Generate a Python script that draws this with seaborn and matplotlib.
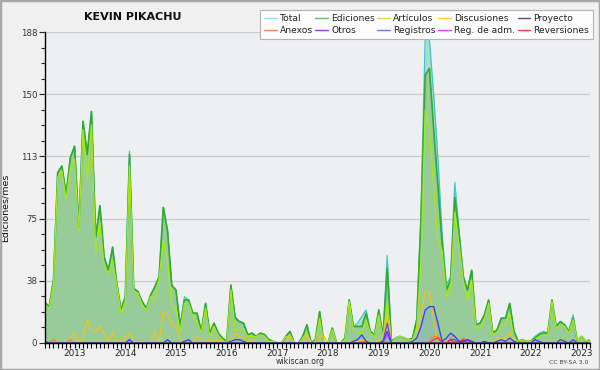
import numpy as np
import pandas as pd
import matplotlib
matplotlib.use("Agg")
import matplotlib.pyplot as plt
import seaborn as sns
from matplotlib.lines import Line2D
from matplotlib.patches import Rectangle
from matplotlib.ticker import FixedLocator, MultipleLocator

# ---------------- data (monthly, starting June 2012) ----------------
start_year, start_month = 2012, 6
year_labels = ["2013", "2014", "2015", "2016", "2017", "2018",
               "2019", "2020", "2021", "2022", "2023"]
y_tick_labels = ["0", "38", "75", "113", "150", "188"]
y_max = 188

ediciones = [24, 22, 38, 103, 107, 90, 112, 119, 70, 134, 114, 140, 64, 83, 52, 44, 58, 36, 20, 28,
             114, 33, 31, 25, 21, 29, 34, 40, 82, 68, 35, 32, 10, 26, 26, 18, 18, 7, 24, 6,
             12, 6, 3, 1, 35, 15, 13, 12, 5, 6, 4, 6, 5, 2, 1, 0, 0, 4, 7, 0,
             0, 4, 11, 0, 2, 19, 0, 0, 9, 0, 0, 3, 26, 10, 10, 10, 18, 7, 5, 20,
             4, 45, 1, 3, 4, 3, 2, 3, 14, 74, 162, 166, 129, 95, 60, 32, 38, 88, 66, 40,
             32, 44, 11, 12, 17, 26, 6, 8, 15, 15, 24, 7, 1, 2, 1, 1, 3, 5, 6, 6,
             26, 10, 13, 11, 7, 15, 1, 4, 1, 2]

total = [25, 22, 38, 103, 107, 90, 112, 119, 70, 134, 114, 140, 64, 83, 52, 44, 58, 36, 20, 28,
         116, 33, 31, 25, 21, 29, 34, 40, 82, 68, 35, 32, 10, 28, 26, 18, 18, 7, 24, 6,
         12, 6, 3, 1, 35, 16, 13, 12, 5, 6, 4, 6, 5, 2, 1, 0, 0, 4, 7, 0,
         0, 4, 11, 0, 2, 19, 0, 0, 9, 0, 0, 3, 26, 10, 12, 16, 20, 7, 5, 20,
         4, 53, 1, 3, 4, 3, 2, 3, 15, 80, 186, 183, 150, 112, 66, 35, 40, 97, 68, 41,
         32, 44, 11, 12, 17, 26, 6, 8, 15, 15, 24, 7, 1, 2, 1, 1, 4, 6, 7, 6,
         26, 10, 13, 11, 7, 17, 1, 4, 1, 2]

articulos = [23, 21, 36, 100, 104, 87, 106, 111, 68, 129, 99, 132, 55, 73, 46, 42, 50, 35, 18, 25,
             107, 31, 30, 23, 20, 28, 26, 39, 62, 50, 22, 21, 7, 24, 24, 16, 13, 6, 21, 4,
             10, 4, 2, 0, 32, 8, 8, 8, 4, 4, 4, 5, 4, 1, 1, 0, 0, 4, 3, 0,
             0, 3, 6, 0, 1, 15, 0, 0, 8, 0, 0, 2, 25, 8, 7, 5, 14, 6, 4, 17,
             3, 25, 0, 3, 4, 3, 2, 2, 9, 50, 141, 129, 94, 62, 56, 28, 32, 79, 60, 38,
             26, 38, 9, 9, 14, 24, 5, 6, 11, 11, 18, 3, 1, 2, 1, 1, 2, 4, 5, 5,
             25, 9, 11, 10, 6, 14, 1, 4, 1, 2]

discusiones = [0, 0, 0, 0, 0, 0, 3, 6, 0, 3, 14, 8, 7, 10, 5, 1, 7, 0, 1, 3,
               6, 1, 0, 1, 0, 0, 7, 0, 19, 17, 12, 10, 2, 0, 0, 1, 4, 0, 2, 2,
               1, 2, 0, 0, 1, 6, 4, 3, 1, 2, 0, 0, 0, 0, 0, 0, 0, 0, 5, 0,
               0, 0, 5, 0, 0, 4, 4, 0, 0, 0, 0, 0, 0, 1, 1, 2, 1, 0, 0, 2,
               0, 17, 0, 0, 0, 0, 0, 0, 3, 18, 31, 31, 14, 0, 1, 1, 2, 1, 0, 0,
               0, 0, 0, 0, 0, 0, 0, 3, 3, 2, 6, 1, 0, 0, 0, 0, 0, 0, 0, 0,
               0, 0, 0, 0, 0, 0, 0, 0, 0, 0]

registros = [1, 0, 0, 0, 0, 0, 0, 0, 0, 0, 0, 0, 0, 0, 0, 0, 0, 0, 0, 0,
             2, 0, 0, 0, 0, 0, 0, 0, 0, 2, 0, 0, 0, 1, 2, 0, 0, 0, 0, 0,
             0, 0, 0, 0, 1, 2, 2, 1, 0, 0, 0, 0, 0, 0, 0, 0, 0, 0, 0, 0,
             0, 0, 0, 0, 0, 0, 0, 0, 0, 0, 0, 0, 0, 1, 2, 5, 1, 0, 0, 0,
             1, 7, 0, 0, 0, 0, 0, 1, 3, 10, 20, 22, 22, 12, 1, 3, 6, 4, 1, 1,
             2, 1, 0, 0, 1, 0, 0, 1, 2, 1, 3, 1, 0, 0, 0, 0, 2, 1, 0, 0,
             0, 0, 0, 0, 0, 2, 0, 0, 0, 0]

anexos = [0, 0, 2, 0, 0, 0, 2, 0, 0, 0, 0, 0, 0, 0, 0, 0, 0, 0, 0, 0,
          0, 0, 0, 0, 0, 0, 0, 0, 0, 0, 0, 0, 0, 0, 0, 0, 0, 0, 0, 0,
          0, 0, 0, 0, 0, 0, 0, 0, 0, 0, 0, 0, 0, 0, 0, 0, 0, 0, 0, 0,
          0, 0, 0, 0, 0, 0, 0, 0, 0, 0, 0, 0, 0, 0, 0, 1, 1, 0, 0, 0,
          0, 0, 0, 0, 0, 0, 0, 0, 0, 0, 0, 1, 4, 4, 1, 0, 3, 4, 1, 3,
          1, 0, 0, 0, 0, 0, 0, 0, 0, 0, 0, 0, 0, 0, 0, 0, 0, 0, 0, 0,
          0, 0, 0, 0, 0, 0, 0, 0, 0, 0]

reversiones = [0] * 92 + [2, 3, 0, 0, 2, 0, 0, 2] + [0] * 30
otros = [0] * 80 + [1, 12] + [0] * 14 + [2, 2, 0, 1, 2] + [0] * 29
reg_adm = [0] * 81 + [5] + [0] * 15 + [1] + [0] * 32
proyecto = [0] * 122 + [2, 1] + [0] * 6

# ---------------- styling ----------------
sns.set_style("white")
plt.rcParams['font.family'] = ['DejaVu Sans']

colors = {
    "Total": "#3cc8c8",
    "Ediciones": "#33a833",
    "Artículos": "#a8ea10",
    "Discusiones": "#f5c21b",
    "Proyecto": "#555555",
    "Anexos": "#ff7f3a",
    "Otros": "#9a30f0",
    "Registros": "#3a3aff",
    "Reg. de adm.": "#d840f0",
    "Reversiones": "#f03030",
}
legend_colors = {
    "Total": "#8ee6e6", "Ediciones": "#62c062", "Artículos": "#c2f040",
    "Discusiones": "#ffcc33", "Proyecto": "#555555", "Anexos": "#ff8844",
    "Otros": "#9933ff", "Registros": "#6f7bff", "Reg. de adm.": "#dd44ff",
    "Reversiones": "#ff3838",
}

series = {
    "Total": total, "Ediciones": ediciones, "Artículos": articulos,
    "Discusiones": discusiones, "Proyecto": proyecto, "Anexos": anexos,
    "Otros": otros, "Registros": registros, "Reg. de adm.": reg_adm,
    "Reversiones": reversiones,
}

n = len(ediciones)
x = np.arange(n)

fig = plt.figure(figsize=(6.0, 3.7), dpi=100)
fig.patch.set_facecolor("#f0f0f0")
ax = fig.add_axes([45 / 600, 27 / 370, 545 / 600, 311 / 370])
ax.set_facecolor("#eeeff1")

# fills
ax.fill_between(x, total, color="#a9ddd0", lw=0, zorder=1)
ax.fill_between(x, ediciones, color="#97cb98", lw=0, zorder=1.5)
ax.fill_between(x, registros, color="#5a6aff", alpha=0.12, lw=0, zorder=1.6)

draw_order = ["Total", "Ediciones", "Artículos", "Discusiones", "Anexos",
              "Reversiones", "Reg. de adm.", "Otros", "Registros", "Proyecto"]
for name in draw_order:
    lw = 1.2 if name in ("Ediciones",) else 0.9
    sns.lineplot(x=x, y=series[name], ax=ax, color=colors[name], lw=lw,
                 legend=False, zorder=3)

ax.set_xlim(0, n - 1)
ax.set_ylim(0, y_max)

# x ticks: January of each year
jan_pos = [(int(y) - start_year) * 12 + (1 - start_month) for y in year_labels]
ax.xaxis.set_major_locator(FixedLocator(jan_pos))
ax.set_xticklabels(year_labels)
ax.xaxis.set_minor_locator(MultipleLocator(1))

yt = np.linspace(0, y_max, 6)
ax.set_yticks(yt)
ax.set_yticklabels(y_tick_labels)
ax.yaxis.set_minor_locator(MultipleLocator(y_max / 20))

ax.tick_params(axis="x", which="both", direction="out", length=3.5, width=0.8,
               pad=1, labelsize=6.4, colors="black", labelcolor="#222222")
ax.tick_params(axis="y", which="major", direction="out", length=4.5, width=0.8,
               pad=1, labelsize=6.2, labelcolor="#333333")
ax.tick_params(axis="y", which="minor", direction="out", length=3, width=0.8)
ax.tick_params(bottom=True, left=True, which="both")

ax.yaxis.grid(True, which="major", color="#cacaca", lw=0.9)
ax.xaxis.grid(False)
ax.set_axisbelow(True)

for s in ["top", "right"]:
    ax.spines[s].set_visible(False)
for s in ["left", "bottom"]:
    ax.spines[s].set_color("black")
    ax.spines[s].set_linewidth(1.0)
    ax.spines[s].set_zorder(5)

ax.set_xlabel("")
ax.set_ylabel("Ediciones/mes", fontsize=6.8, color="#111111")
ax.yaxis.set_label_coords(-35 / 545, 0.436)

# title
fig.text(132.5 / 600, 1 - 17 / 370, "KEVIN PIKACHU", fontsize=8, fontweight="bold",
         ha="center", va="center", color="#111111")

# legend
order = ["Total", "Anexos", "Ediciones", "Otros", "Artículos", "Registros",
         "Discusiones", "Reg. de adm.", "Proyecto", "Reversiones"]
handles = [Line2D([0], [0], color=legend_colors[k], lw=1.0) for k in order]
leg = fig.legend(handles, order, ncol=5, loc="upper right",
                 bbox_to_anchor=(593 / 600, 1 - 10.5 / 370),
                 fontsize=6.6, frameon=True, fancybox=False, borderpad=0.4,
                 handlelength=1.4, handletextpad=0.35, columnspacing=0.25,
                 labelspacing=0.3, borderaxespad=0)
leg.get_frame().set_facecolor("#fdfdfd")
leg.get_frame().set_edgecolor("#b4b4b4")
leg.get_frame().set_linewidth(0.8)
leg.get_frame().set_alpha(1)
for t in leg.get_texts():
    t.set_color("#222222")

# footer texts
fig.text(300 / 600, 1 - 361.5 / 370, "wikiscan.org", fontsize=5.6, ha="center",
         va="center", color="#333333")
fig.text(569 / 600, 1 - 362 / 370, "CC BY-SA 3.0", fontsize=4.4, ha="center",
         va="center", color="#444444")

# outer border
fig.add_artist(Rectangle((0, 0), 1, 1, transform=fig.transFigure, fill=False,
                         edgecolor="#a8a8a8", lw=2.5))

fig.savefig("out.png", dpi=100, facecolor=fig.get_facecolor())
